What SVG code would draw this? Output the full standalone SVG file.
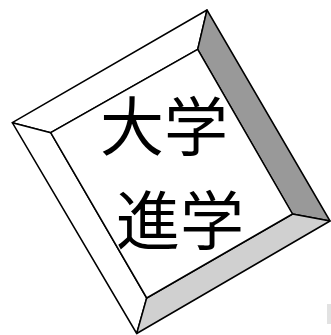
<svg xmlns="http://www.w3.org/2000/svg" width="331" height="335" viewBox="0 0 331 335">
<style>
.e{stroke:#000;stroke-width:1.5;stroke-linejoin:round}
.t{font-family:"Noto Sans CJK JP","Noto Sans CJK SC",sans-serif;font-size:64px;fill:#000}
</style>
<rect width="331" height="335" fill="#fff"/>
<g id="bevel">
<polygon class="e" fill="#fff" points="207,10 197.7,49.3 50.7,132.7 12.3,122.7"/>
<polygon class="e" fill="#fff" points="12.3,122.7 50.7,132.7 146.7,298 136.7,333.5"/>
<polygon class="e" fill="#999" points="207,10 330,221 292.5,214 197.7,49.3"/>
<polygon class="e" fill="#d0d0d0" points="330,221 136.7,333.5 146.7,298 292.5,214"/>
<polygon class="e" fill="#fff" points="197.7,49.3 292.5,214 146.7,298 50.7,132.7"/>
<text class="t" x="100" y="150">大学</text>
<text class="t" x="116" y="244">進学</text>
</g>
<rect x="327" y="304" width="4" height="20" fill="#e2e2e2"/>
</svg>
